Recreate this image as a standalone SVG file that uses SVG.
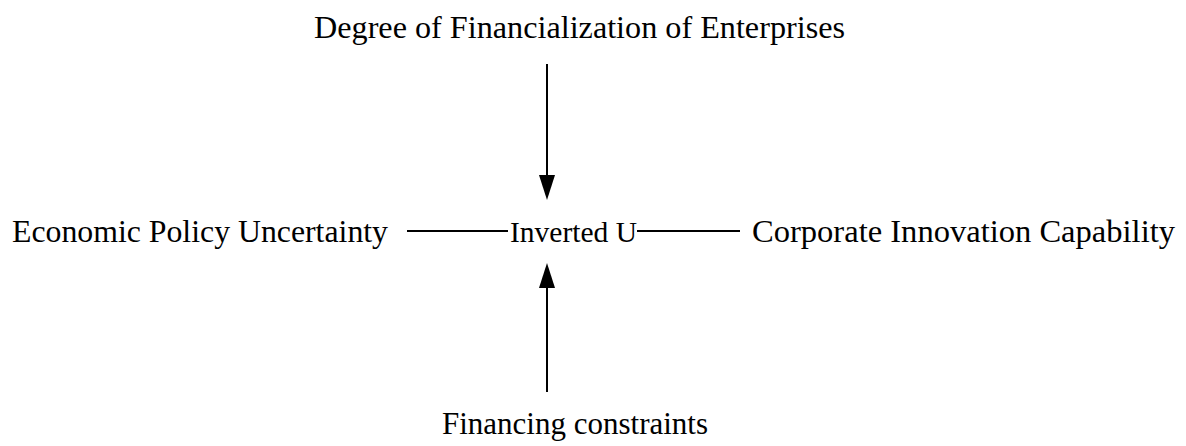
<svg xmlns="http://www.w3.org/2000/svg" width="1186" height="446" viewBox="0 0 1186 446">
<style>
.lbl{font-family:"Liberation Serif","DejaVu Serif",serif;font-size:31px;fill:#000}
.mid{font-family:"Liberation Serif","DejaVu Serif",serif;font-size:29px;fill:#000}
.ln{stroke:#000;stroke-width:2;fill:none}
.hd{fill:#000}
</style>
<rect width="1186" height="446" fill="#fff"/>
<g id="node-degree"><text class="lbl" x="314" y="38" textLength="531" lengthAdjust="spacingAndGlyphs">Degree of Financialization of Enterprises</text></g>
<g id="node-epu"><text class="lbl" x="12" y="242" textLength="376" lengthAdjust="spacingAndGlyphs">Economic Policy Uncertainty</text></g>
<g id="node-center"><text class="mid" x="510" y="242" textLength="127" lengthAdjust="spacingAndGlyphs">Inverted U</text></g>
<g id="node-cic"><text class="lbl" x="752" y="242" textLength="423" lengthAdjust="spacingAndGlyphs">Corporate Innovation Capability</text></g>
<g id="node-fc"><text class="lbl" x="442" y="434" textLength="266" lengthAdjust="spacingAndGlyphs">Financing constraints</text></g>
<g id="connectors">
<line class="ln" x1="407" y1="231" x2="508" y2="231"/>
<line class="ln" x1="637" y1="231" x2="740" y2="231"/>
<line class="ln" x1="547" y1="64" x2="547" y2="178"/>
<path class="hd" d="M539,175 L555,175 L547,200 Z"/>
<line class="ln" x1="547" y1="392" x2="547" y2="285"/>
<path class="hd" d="M539,288 L555,288 L547,263 Z"/>
</g>
</svg>
